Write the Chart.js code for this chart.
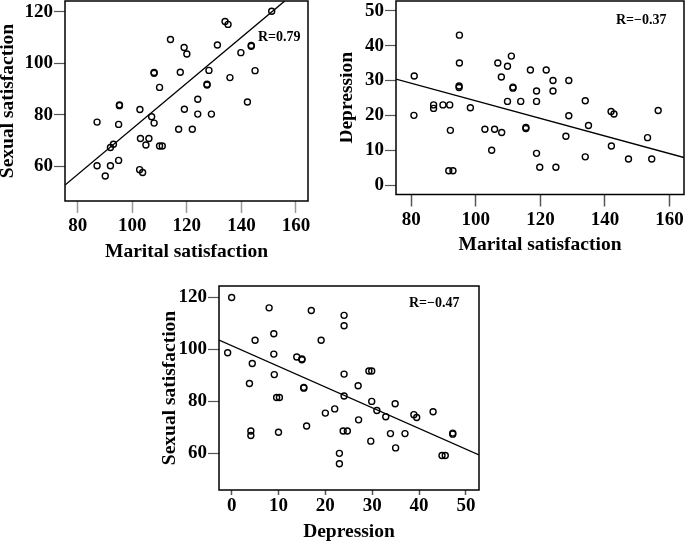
<!DOCTYPE html>
<html>
<head>
<meta charset="utf-8">
<script src="https://cdn.jsdelivr.net/npm/chart.js@4/dist/chart.umd.min.js"></script>
<style>
  body { margin: 0; background: #fff; }
  #wrap { position: relative; width: 685px; height: 543px; }
  .box { position: absolute; }
</style>
</head>
<body>
<div id="wrap">
  <div class="box" style="left:0px;top:0px;width:340px;height:270px"><canvas id="c1"></canvas></div>
  <div class="box" style="left:340px;top:0px;width:345px;height:270px"><canvas id="c2"></canvas></div>
  <div class="box" style="left:160px;top:280px;width:360px;height:263px"><canvas id="c3"></canvas></div>
</div>
<script>
// panel 1: marital vs sexual satisfaction
const marital1 = [87.1, 87.1, 90.1, 92.0, 92.0, 93.1, 95.0, 95.0, 95.3, 95.3, 102.8, 103.0, 102.7, 103.8, 105.0, 106.1, 107.1, 108.0, 108.0, 108.0, 110.0, 110.0, 111.0, 114.0, 117.0, 117.6, 119.0, 119.1, 120.0, 122.0, 124.0, 124.0, 127.4, 127.4, 128.1, 129.0, 131.2, 134.0, 135.1, 135.8, 139.8, 142.2, 143.6, 143.6, 145.0, 151.1];
const sexual1 = [60.1, 77.1, 56.1, 60.1, 67.2, 68.5, 62.2, 76.2, 83.8, 83.5, 82.0, 70.7, 58.6, 57.5, 68.2, 70.7, 79.2, 76.7, 96.4, 96.1, 90.6, 67.8, 67.8, 109.2, 74.3, 96.5, 106.1, 82.1, 103.6, 74.3, 86.0, 80.2, 91.8, 91.5, 97.2, 80.2, 107.1, 116.2, 115.1, 94.4, 104.1, 84.9, 106.9, 106.6, 97.1, 120.2];
const fit1 = [[75.35, 52.6], [155.9, 124.2]];

// panel 2: marital satisfaction vs depression
const marital2 = [80.9, 80.8, 86.9, 86.9, 89.8, 91.9, 92.1, 91.6, 92.9, 94.9, 94.9, 94.8, 94.8, 98.3, 102.8, 104.9, 105.8, 106.8, 107.9, 108.0, 109.8, 109.8, 111.0, 111.5, 111.5, 113.9, 115.5, 115.5, 116.9, 118.8, 118.8, 118.8, 119.8, 121.8, 123.9, 123.9, 124.8, 127.9, 128.8, 128.8, 133.9, 133.9, 134.9, 141.9, 142.8, 142.0, 147.3, 153.2, 154.5, 156.5];
const depression2 = [31.3, 20.0, 23.0, 22.0, 23.0, 23.0, 15.7, 4.1, 4.1, 43.0, 35.0, 28.4, 28.0, 22.2, 16.0, 10.0, 16.0, 35.0, 31.0, 15.1, 34.1, 24.0, 37.0, 28.1, 27.8, 24.0, 16.5, 16.2, 33.0, 27.0, 24.0, 9.1, 5.1, 33.0, 30.0, 27.0, 5.1, 14.0, 30.0, 19.9, 24.2, 8.1, 17.1, 21.1, 20.4, 11.2, 7.5, 13.6, 7.5, 21.4];
const fit2 = [[75.25, 30.4], [164.5, 7.9]];

// panel 3: depression vs sexual satisfaction
const depression3 = [0.0, -0.85, 5.0, 8.0, 9.0, 9.0, 9.1, 4.4, 3.8, 4.1, 4.1, 9.6, 10.2, 10.0, 13.9, 15.0, 15.0, 15.4, 15.4, 16.0, 17.0, 19.1, 20.0, 22.0, 23.0, 23.0, 24.0, 24.0, 24.0, 24.0, 23.8, 24.7, 27.0, 27.1, 29.3, 29.9, 29.7, 29.9, 31.0, 32.9, 33.9, 34.9, 35.0, 37.0, 38.9, 39.5, 43.0, 44.9, 45.6, 47.2, 47.2];
const sexual3 = [120.0, 98.7, 103.5, 116.0, 106.0, 98.2, 90.3, 94.6, 86.9, 68.6, 66.9, 81.5, 81.5, 68.1, 97.1, 96.3, 96.0, 85.4, 85.1, 70.5, 115.0, 103.5, 75.5, 77.1, 60.0, 56.0, 113.1, 109.1, 90.5, 82.1, 68.6, 68.6, 86.0, 72.9, 91.7, 91.7, 64.7, 80.0, 76.5, 74.1, 67.6, 79.1, 62.1, 67.6, 74.9, 73.8, 76.0, 59.2, 59.2, 67.8, 67.4];
const fit3 = [[-2.7, 103.6], [52.8, 59.4]];

const ticksMarital = [80, 100, 120, 140, 160];
const ticksSexual = [60, 80, 100, 120];
const ticksDepY = [0, 10, 20, 30, 40, 50];
const ticksDepX = [0, 10, 20, 30, 40, 50];

const fontFam = "'Liberation Serif', 'Times New Roman', serif";

// draws the closed frame and the R label
const framePlugin = {
    id: 'frame',
    afterDraw(chart, args, opts) {
        const a = chart.chartArea;
        const ctx = chart.ctx;
        ctx.save();
        ctx.strokeStyle = '#000';
        ctx.lineWidth = 1.5;
        ctx.strokeRect(a.left, a.top, a.right - a.left, a.bottom - a.top);
        ctx.fillStyle = '#000';
        ctx.font = 'bold 14px ' + fontFam;
        ctx.textBaseline = 'middle';
        ctx.textAlign = 'left';
        ctx.fillText(opts.text, a.left + opts.dx, a.top + opts.dy);
        ctx.restore();
    }
};

function pts(xs, ys) {
    return xs.map((x, i) => ({x: x, y: ys[i]}));
}

function noPad(s) {
    s.paddingTop = 0;
    s.paddingBottom = 0;
    s.paddingLeft = 0;
    s.paddingRight = 0;
}

function makeChart(id, p) {
    return new Chart(document.getElementById(id), {
        type: 'scatter',
        data: {
            datasets: [{
                data: pts(p.xs, p.ys),
                pointRadius: 3,
                pointBorderWidth: 1.4,
                pointBorderColor: '#000',
                pointBackgroundColor: 'rgba(0,0,0,0)',
                pointHoverRadius: 3
            }, {
                type: 'line',
                data: p.fit.map(d => ({x: d[0], y: d[1]})),
                borderColor: '#000',
                borderWidth: 1.4,
                pointRadius: 0,
                fill: false
            }]
        },
        options: {
            responsive: true,
            maintainAspectRatio: false,
            animation: false,
            layout: {padding: p.pad, autoPadding: false},
            plugins: {
                legend: {display: false},
                tooltip: {enabled: false},
                frame: {text: p.r, dx: p.rdx, dy: p.rdy}
            },
            scales: {
                x: {
                    type: 'linear',
                    min: p.xmin, max: p.xmax,
                    afterBuildTicks: s => { s.ticks = p.xticks.map(v => ({value: v})); },
                    afterFit: s => { s.height = p.xh; noPad(s); },
                    border: {display: false},
                    grid: {drawOnChartArea: false, tickLength: p.xtl, tickColor: p.xtc, tickWidth: 1.5},
                    ticks: {color: '#000', padding: p.xlp, font: {family: fontFam, size: 19, weight: 'bold', lineHeight: 1}},
                    title: {display: true, text: p.xtitle, color: '#000', padding: {top: 0, bottom: p.xtp},
                        font: {family: fontFam, size: 19.5, weight: 'bold', lineHeight: 1}}
                },
                y: {
                    type: 'linear',
                    min: p.ymin, max: p.ymax,
                    afterBuildTicks: s => { s.ticks = p.yticks.map(v => ({value: v})); },
                    afterFit: s => { s.width = p.yw; noPad(s); },
                    border: {display: false},
                    grid: {drawOnChartArea: false, tickLength: 11, tickColor: '#555', tickWidth: 1.2},
                    ticks: {color: '#000', padding: 1, font: {family: fontFam, size: 19, weight: 'bold', lineHeight: 1}},
                    title: {display: true, text: p.ytitle, color: '#000', padding: {top: p.ytp, bottom: 0},
                        font: {family: fontFam, size: 19.5, weight: 'bold', lineHeight: 1}}
                }
            }
        },
        plugins: [framePlugin]
    });
}

makeChart('c1', {
    xs: marital1, ys: sexual1, fit: fit1,
    xmin: 75.35, xmax: 164.4, ymin: 46.4, ymax: 124.2,
    xticks: ticksMarital, yticks: ticksSexual,
    xtitle: 'Marital satisfaction', ytitle: 'Sexual satisfaction',
    pad: {left: 0, top: 1, right: 32, bottom: 0}, yw: 65, xh: 69,
    xtl: 12, xtc: '#999', xlp: 4, xtp: 8.5, ytp: -2,
    r: 'R=0.79', rdx: 193, rdy: 36
});

makeChart('c2', {
    xs: marital2, ys: depression2, fit: fit2,
    xmin: 75.25, xmax: 164.5, ymin: -2.7, ymax: 52.8,
    xticks: ticksMarital, yticks: ticksDepY,
    xtitle: 'Marital satisfaction', ytitle: 'Depression',
    pad: {left: 0, top: 1, right: 1, bottom: 0}, yw: 56, xh: 75.5,
    xtl: 12, xtc: '#555', xlp: 4, xtp: 15.5, ytp: -2.5,
    r: 'R=\u22120.37', rdx: 220, rdy: 19
});

makeChart('c3', {
    xs: depression3, ys: sexual3, fit: fit3,
    xmin: -2.7, xmax: 52.8, ymin: 45.9, ymax: 124.4,
    xticks: ticksDepX, yticks: ticksSexual,
    xtitle: 'Depression', ytitle: 'Sexual satisfaction',
    pad: {left: 0, top: 6, right: 41, bottom: 0}, yw: 59, xh: 53,
    xtl: 5, xtc: '#555', xlp: 1.5, xtp: 1.5, ytp: 0.5,
    r: 'R=\u22120.47', rdx: 190, rdy: 17
});
</script>
</body>
</html>
